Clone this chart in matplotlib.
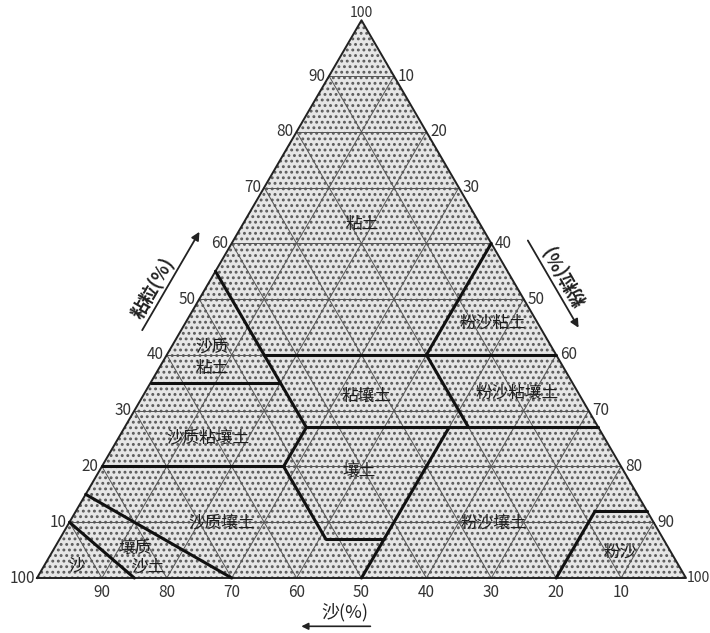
import numpy as np
import matplotlib
matplotlib.use("Agg")
import matplotlib.pyplot as plt
from matplotlib.patches import Polygon

plt.rcParams['font.family'] = ['Noto Sans CJK SC', 'DejaVu Sans']
plt.rcParams['hatch.linewidth'] = 1.3

# soil texture classes: label, clay %, silt % of the label centre
class_names = ['粘土', '粉沙粘土', '沙质\n粘土', '粘壤土', '粉沙粘壤土', '沙质粘壤土',
               '壤土', '沙质壤土', '粉沙壤土', '粉沙', '壤质', '沙土', '沙']
class_clay = [63.3, 45.7, 39.5, 32.6, 33.1, 25.1, 19.2, 9.8, 9.8, 4.6, 5.3, 2.0, 2.1]
class_silt = [18.4, 47.4, 7.2, 34.4, 57.4, 13.8, 40.0, 23.5, 65.5, 87.5, 12.5, 16.1, 5.1]

# class boundaries: (clay, silt) start -> (clay, silt) end
bound_start = [(55, 0), (40, 15), (60, 40), (40, 40), (27, 28), (35, 0), (20, 0),
               (27, 28), (20, 28), (7, 41), (27, 50), (0, 80), (12, 80), (15, 0), (10, 0)]
bound_end = [(27, 28), (40, 60), (40, 40), (27, 53), (27, 73), (35, 20), (20, 28),
             (20, 28), (7, 41), (7, 50), (0, 50), (12, 80), (12, 88), (0, 30), (0, 15)]

grid_vals = [10, 20, 30, 40, 50, 60, 70, 80, 90]
clay_ticks = [10, 20, 30, 40, 50, 60, 70, 80, 90]
silt_ticks = [10, 20, 30, 40, 50, 60, 70, 80, 90]
sand_ticks = [90, 80, 70, 60, 50, 40, 30, 20, 10]

H = np.sqrt(3) / 2


def tern(clay, silt):
    return silt + clay / 2.0, clay * H


fig = plt.figure(figsize=(7.1, 6.33), dpi=100)
ax = fig.add_axes([0, 0, 1, 1])
ax.set_xlim(-5.70, 103.70)
ax.set_ylim(-8.54, 89.75)
ax.axis('off')

# triangle with stipple texture
tri = [tern(0, 0), tern(0, 100), tern(100, 0)]
ax.add_patch(Polygon(tri, closed=True, facecolor='#e6e6e6', edgecolor='#5a5a5a',
                     lw=0, hatch='...', zorder=1))

# 10% grid lines in three directions
for v in grid_vals:
    for a, b in [(tern(v, 0), tern(v, 100 - v)),
                 (tern(0, v), tern(100 - v, v)),
                 (tern(0, 100 - v), tern(100 - v, 0))]:
        ax.plot([a[0], b[0]], [a[1], b[1]], color='#555555', lw=0.7, zorder=2)

# outline
ox = [p[0] for p in tri] + [tri[0][0]]
oy = [p[1] for p in tri] + [tri[0][1]]
ax.plot(ox, oy, color='#222222', lw=1.4, zorder=3)

# class boundaries
for s, e in zip(bound_start, bound_end):
    a, b = tern(*s), tern(*e)
    ax.plot([a[0], b[0]], [a[1], b[1]], color='#111111', lw=2.2,
            solid_capstyle='round', zorder=4)

# class labels
for name, c, s in zip(class_names, class_clay, class_silt):
    x, y = tern(c, s)
    ax.text(x, y, name, ha='center', va='center', fontsize=12,
            linespacing=1.3, color='#1e1e1e', zorder=5)

# tick labels
for v in clay_ticks:
    x, y = tern(v, 0)
    ax.text(x - 0.5, y, str(v), ha='right', va='center', fontsize=11, color='#333333')
for v in silt_ticks:
    x, y = tern(100 - v, v)
    ax.text(x + 0.6, y, str(v), ha='left', va='center', fontsize=11, color='#333333')
for v in sand_ticks:
    x, y = tern(0, 100 - v)
    ax.text(x, y - 2.2, str(v), ha='center', va='center', fontsize=11, color='#333333')

ax.text(50, 100 * H + 0.5, '100', ha='center', va='baseline', fontsize=10, color='#333333')
ax.text(-0.3, 0, '100', ha='right', va='center', fontsize=11, color='#333333')
ax.text(100.1, 0, '100', ha='left', va='center', fontsize=10, color='#333333')

# axis names with arrows
d_left = np.array([0.5, H])
n_left = np.array([-H, 0.5])
p0 = 41 * d_left + 5.2 * n_left
p1 = 59.5 * d_left + 5.2 * n_left
ax.annotate('', xy=p1, xytext=p0,
            arrowprops=dict(arrowstyle='-|>', color='#222222', lw=1.3,
                            mutation_scale=12))
pt = 48 * d_left + 7.0 * n_left
ax.text(pt[0], pt[1], '粘粒(%)', rotation=60, ha='center', va='center',
        fontsize=13, fontweight='bold', color='#222222')

base_r = np.array([100.0, 0.0])
d_right = np.array([-0.5, H])
n_right = np.array([H, 0.5])
p0 = base_r + 58 * d_right + 5.1 * n_right
p1 = base_r + 41.5 * d_right + 5.1 * n_right
ax.annotate('', xy=p1, xytext=p0,
            arrowprops=dict(arrowstyle='-|>', color='#222222', lw=1.3,
                            mutation_scale=12))
pt = base_r + 50 * d_right + 7.5 * n_right
ax.text(pt[0], pt[1], '粉粒(%)', rotation=120, ha='center', va='center',
        fontsize=13, fontweight='bold', color='#222222')

ax.text(47.5, -5.3, '沙(%)', ha='center', va='center', fontsize=13, color='#222222')
ax.annotate('', xy=(40.3, -7.5), xytext=(51.8, -7.5),
            arrowprops=dict(arrowstyle='-|>', color='#222222', lw=1.2,
                            mutation_scale=10))

fig.savefig('out.png', dpi=100)
